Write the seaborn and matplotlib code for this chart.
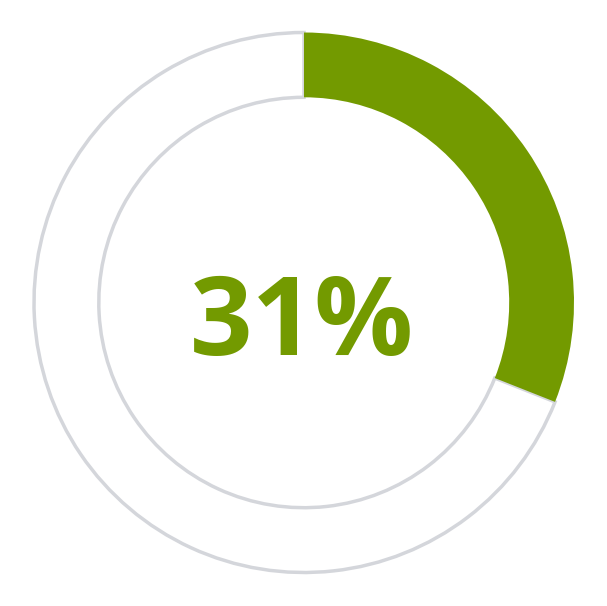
import matplotlib
matplotlib.use("Agg")
import matplotlib.pyplot as plt
import seaborn as sns

labels = ["Achieved", "Remaining"]
values = [31, 69]
center_label = "31%"

sns.set_style("white")
plt.rcParams['font.family'] = ['Open Sans', 'DejaVu Sans']

green = "#739a00"
grey = "#d4d6db"

fig = plt.figure(figsize=(6.07, 6.06), dpi=100)
ax = fig.add_axes([0, 0, 1, 1])
wedges, _ = ax.pie(values, startangle=90, counterclock=False,
                   colors=[green, "white"], radius=1.0,
                   wedgeprops=dict(width=0.24, linewidth=0))
wedges[1].set_edgecolor(grey)
wedges[1].set_linewidth(2.5)
wedges[1].set_zorder(1)
wedges[0].set_zorder(2)

ax.set_xlim(-304 / 270, 303 / 270)
ax.set_ylim(-303.5 / 270, 302.5 / 270)
ax.set_aspect("auto")
ax.axis("off")

ax.text(-0.006, -0.194, center_label, ha="center", va="baseline",
        fontsize=79, fontweight="bold", color=green)

fig.savefig("out.png", dpi=100)
